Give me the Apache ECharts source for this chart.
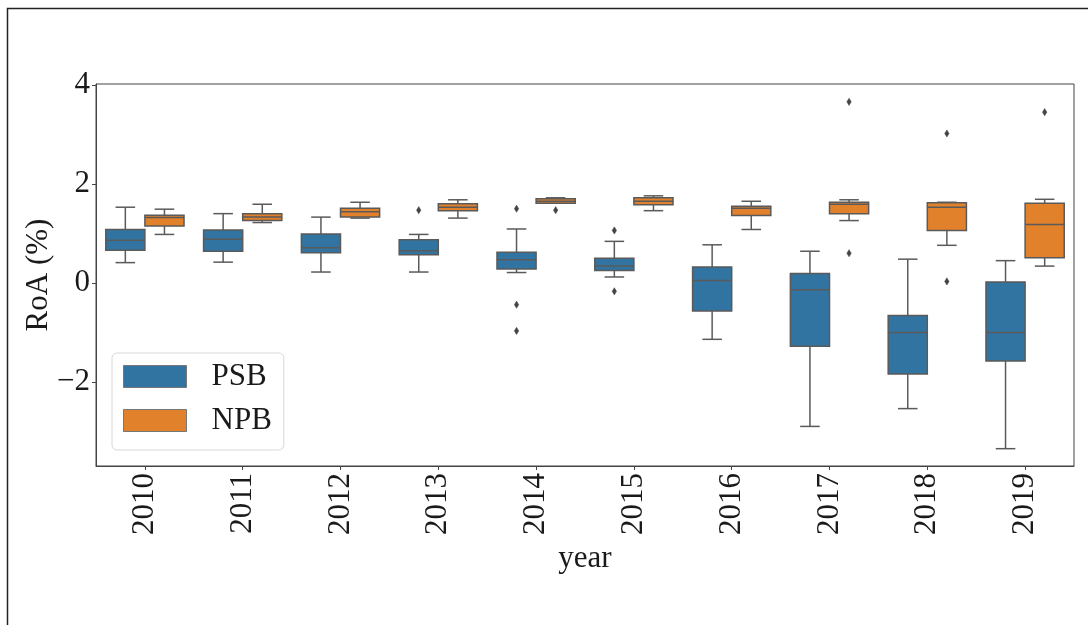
<!DOCTYPE html>
<html>
<head>
<meta charset="utf-8">
<script src="https://cdn.jsdelivr.net/npm/echarts@6/dist/echarts.min.js"></script>
<style>
html,body{margin:0;padding:0;background:#fff;}
#chart{width:1088px;height:625px;}
</style>
</head>
<body>
<div id="chart"></div>
<script>
const years = ['2010','2011','2012','2013','2014','2015','2016','2017','2018','2019'];
// [lower whisker, Q1, median, Q3, upper whisker]
const psbStats = [
  [0.41, 0.66, 0.86, 1.08, 1.53],
  [0.42, 0.64, 0.88, 1.07, 1.40],
  [0.22, 0.61, 0.71, 0.99, 1.33],
  [0.22, 0.57, 0.65, 0.87, 0.98],
  [0.21, 0.28, 0.47, 0.62, 1.09],
  [0.12, 0.25, 0.34, 0.50, 0.84],
  [-1.14, -0.57, 0.05, 0.32, 0.77],
  [-2.90, -1.28, -0.14, 0.19, 0.64],
  [-2.54, -1.84, -1.00, -0.66, 0.48],
  [-3.35, -1.58, -1.00, 0.02, 0.45]
];
const npbStats = [
  [0.98, 1.15, 1.32, 1.37, 1.49],
  [1.22, 1.26, 1.33, 1.40, 1.59],
  [1.31, 1.33, 1.44, 1.51, 1.63],
  [1.31, 1.46, 1.53, 1.60, 1.68],
  [1.61, 1.61, 1.65, 1.70, 1.72],
  [1.46, 1.58, 1.65, 1.72, 1.76],
  [1.08, 1.36, 1.51, 1.55, 1.65],
  [1.26, 1.40, 1.59, 1.63, 1.68],
  [0.76, 1.06, 1.53, 1.62, 1.63],
  [0.34, 0.51, 1.18, 1.61, 1.69]
];
// [year index, value]
const psbOutliers = [[3, 1.47], [4, 1.50], [4, -0.44], [4, -0.97], [5, 1.06], [5, -0.17]];
const npbOutliers = [[4, 1.47], [7, 3.66], [7, 0.60], [8, 3.02], [8, 0.03], [9, 3.45]];
const yTicks = [-2, 0, 2, 4];

const PSB_COLOR = '#3274a1';
const NPB_COLOR = '#e1812c';
const LINE = '#5a5a5a';
const FONT = '"Liberation Serif", "DejaVu Serif", serif';
const FS = 31;

function boxRenderer(offset, fill) {
  return function (params, api) {
    const i = api.value(0);
    const band = api.size([1, 0])[0];
    const cx = api.coord([i, 0])[0] + offset * band;
    const w = band * 0.4;
    const cap = w / 2;
    const yLow = api.coord([i, api.value(1)])[1];
    const yQ1 = api.coord([i, api.value(2)])[1];
    const yMed = api.coord([i, api.value(3)])[1];
    const yQ3 = api.coord([i, api.value(4)])[1];
    const yHigh = api.coord([i, api.value(5)])[1];
    const ls = { stroke: LINE, lineWidth: 1.5 };
    return {
      type: 'group',
      children: [
        { type: 'line', shape: { x1: cx, y1: yLow, x2: cx, y2: yQ1 }, style: ls },
        { type: 'line', shape: { x1: cx, y1: yQ3, x2: cx, y2: yHigh }, style: ls },
        { type: 'line', shape: { x1: cx - cap / 2, y1: yLow, x2: cx + cap / 2, y2: yLow }, style: ls },
        { type: 'line', shape: { x1: cx - cap / 2, y1: yHigh, x2: cx + cap / 2, y2: yHigh }, style: ls },
        { type: 'rect', shape: { x: cx - w / 2, y: yQ3, width: w, height: yQ1 - yQ3 },
          style: { fill: fill, stroke: LINE, lineWidth: 1.5 } },
        { type: 'line', shape: { x1: cx - w / 2, y1: yMed, x2: cx + w / 2, y2: yMed }, style: ls }
      ]
    };
  };
}

function outlierRenderer(offset) {
  return function (params, api) {
    const i = api.value(0);
    const band = api.size([1, 0])[0];
    const cx = api.coord([i, 0])[0] + offset * band;
    const y = api.coord([i, api.value(1)])[1];
    return {
      type: 'polygon',
      shape: { points: [[cx, y - 3.6], [cx + 2.2, y], [cx, y + 3.6], [cx - 2.2, y]] },
      style: { fill: '#444', stroke: '#444', lineWidth: 0.5 }
    };
  };
}

const chart = echarts.init(document.getElementById('chart'), null, { renderer: 'canvas' });
const option = {
  animation: false,
  backgroundColor: '#fff',
  textStyle: { fontFamily: FONT },
  graphic: [
    { type: 'polyline', silent: true,
      shape: { points: [[7.5, 625], [7.5, 8.5], [1088, 8.5]] },
      style: { stroke: '#222', lineWidth: 1.5, fill: null } }
  ],
  grid: { left: 96, right: 14, top: 84, bottom: 159, show: true, borderColor: '#444', borderWidth: 1, backgroundColor: 'transparent' },
  legend: {
    left: 112, top: 353,
    orient: 'vertical',
    padding: [8, 12, 14, 11],
    itemWidth: 63, itemHeight: 22, itemGap: 13,
    backgroundColor: '#fff',
    borderColor: '#d8d8d8', borderWidth: 1, borderRadius: 5,
    textStyle: { fontFamily: FONT, fontSize: FS, color: '#1a1a1a', padding: [0, 0, 0, 20] },
    data: [
      { name: 'PSB', icon: 'rect', itemStyle: { color: PSB_COLOR, borderColor: '#777', borderWidth: 1 } },
      { name: 'NPB', icon: 'rect', itemStyle: { color: NPB_COLOR, borderColor: '#777', borderWidth: 1 } }
    ]
  },
  xAxis: {
    type: 'category',
    data: years,
    boundaryGap: true,
    name: 'year',
    nameLocation: 'middle',
    nameGap: 72,
    nameTextStyle: { fontFamily: FONT, fontSize: FS, color: '#1a1a1a' },
    axisLine: { show: true, onZero: false, lineStyle: { color: '#444', width: 1 } },
    axisTick: { show: true, alignWithLabel: true, length: 4, lineStyle: { color: '#444' } },
    axisLabel: { rotate: 90, fontFamily: FONT, fontSize: FS, color: '#1a1a1a', margin: 7, interval: 0 },
    splitLine: { show: false }
  },
  yAxis: {
    type: 'value',
    min: -3.70, max: 4.02,
    name: 'RoA (%)',
    nameLocation: 'middle',
    nameGap: 42,
    nameMoveOverlap: false,
    nameRotate: 90,
    nameTextStyle: { fontFamily: FONT, fontSize: FS, color: '#1a1a1a' },
    axisLine: { show: true, onZero: false, lineStyle: { color: '#444', width: 1 } },
    axisTick: { show: true, length: 4, customValues: yTicks, lineStyle: { color: '#444' } },
    axisLabel: {
      customValues: yTicks,
      fontFamily: FONT, fontSize: FS, color: '#1a1a1a', margin: 6,
      formatter: function (v) { return v < 0 ? '\u2212' + Math.abs(v) : String(v); }
    },
    splitLine: { show: false }
  },
  series: [
    { name: 'PSB', type: 'custom', itemStyle: { color: PSB_COLOR },
      renderItem: boxRenderer(-0.2, PSB_COLOR),
      encode: { x: 0, y: [1, 2, 3, 4, 5] },
      data: psbStats.map(function (s, i) { return [i].concat(s); }) },
    { name: 'NPB', type: 'custom', itemStyle: { color: NPB_COLOR },
      renderItem: boxRenderer(0.2, NPB_COLOR),
      encode: { x: 0, y: [1, 2, 3, 4, 5] },
      data: npbStats.map(function (s, i) { return [i].concat(s); }) },
    { name: 'PSB outliers', type: 'custom',
      renderItem: outlierRenderer(-0.2),
      encode: { x: 0, y: 1 },
      data: psbOutliers },
    { name: 'NPB outliers', type: 'custom',
      renderItem: outlierRenderer(0.2),
      encode: { x: 0, y: 1 },
      data: npbOutliers }
  ]
};
chart.setOption(option);
</script>
</body>
</html>
